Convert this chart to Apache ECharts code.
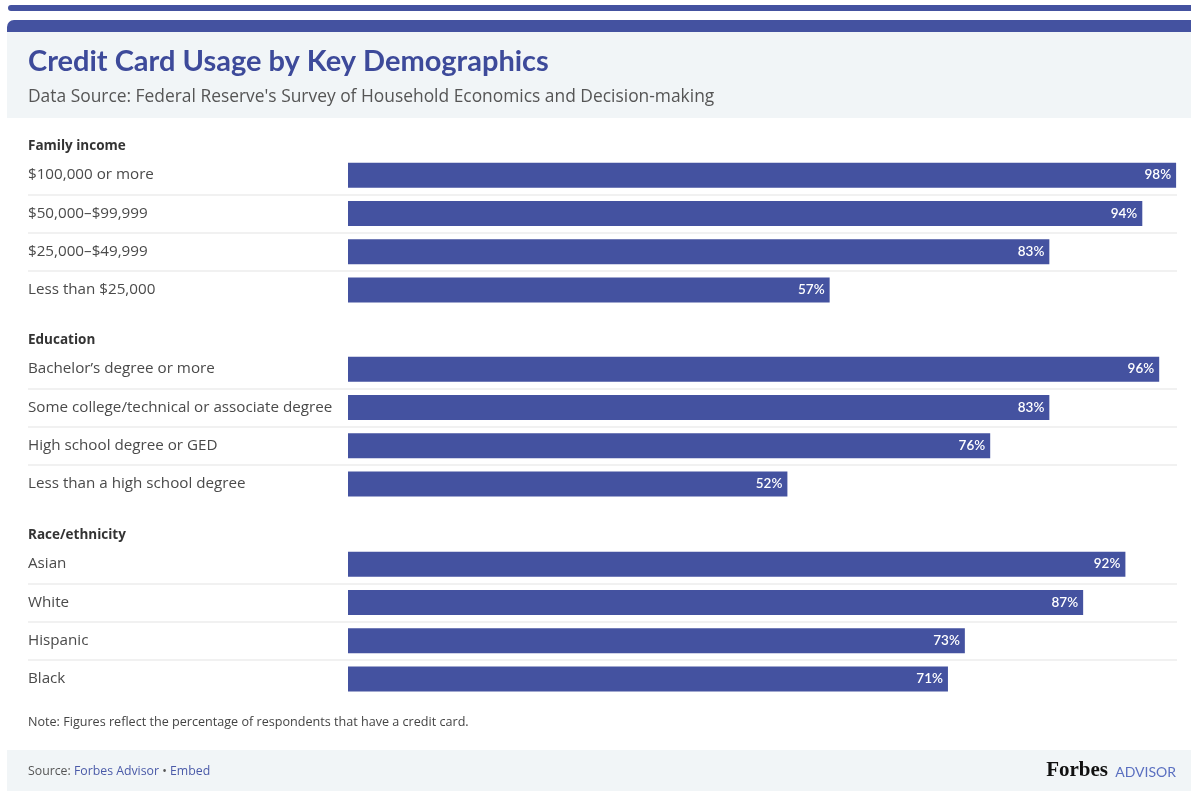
<!DOCTYPE html>
<html>
<head>
<meta charset="utf-8">
<script src="https://cdn.jsdelivr.net/npm/echarts@6/dist/echarts.min.js"></script>
<style>html,body{margin:0;padding:0;background:#fff;}#chart{width:1191px;height:791px;}</style>
</head>
<body>
<div id="chart"></div>
<script>
const groupTitles = ['Family income', 'Education', 'Race/ethnicity'];
const incomeCategories = ['$100,000 or more', '$50,000\u2013$99,999', '$25,000\u2013$49,999', 'Less than $25,000'];
const incomeValues = [98, 94, 83, 57];
const educationCategories = ['Bachelor\u2019s degree or more', 'Some college/technical or associate degree', 'High school degree or GED', 'Less than a high school degree'];
const educationValues = [96, 83, 76, 52];
const raceCategories = ['Asian', 'White', 'Hispanic', 'Black'];
const raceValues = [92, 87, 73, 71];

const groups = [
  { title: groupTitles[0], cats: incomeCategories, vals: incomeValues },
  { title: groupTitles[1], cats: educationCategories, vals: educationValues },
  { title: groupTitles[2], cats: raceCategories, vals: raceValues }
];

const FONT = 'Lato, "Noto Sans", sans-serif';
const BODY = '"Open Sans", "Noto Sans", sans-serif';
const BAR = '#4452a0';
const gridLeft = 28, gridRight = 1177, zeroX = 348, pxPerPct = 8.45;
const xMin = -(zeroX - gridLeft) / pxPerPct;
const xMax = (gridRight - zeroX) / pxPerPct;
const gridTops = [156, 350, 545];
const gridH = 153;

const grids = [], xAxes = [], yAxes = [], series = [], headerTexts = [];
groups.forEach((g, i) => {
  grids.push({ left: gridLeft, width: gridRight - gridLeft, top: gridTops[i], height: gridH, containLabel: false });
  xAxes.push({ type: 'value', gridIndex: i, min: xMin, max: xMax, show: false, splitLine: { show: false } });
  yAxes.push({
    type: 'category', gridIndex: i, data: g.cats, inverse: true,
    axisLine: { show: false }, axisTick: { show: false },
    axisLabel: { inside: true, margin: 0, align: 'left', color: '#4a4a4a', fontSize: 15.2, fontFamily: BODY, verticalAlign: 'middle', padding: [0, 0, 3, 0] },
    splitLine: { show: true, showMinLine: false, showMaxLine: false, lineStyle: { color: '#ececec', width: 1.5 } }
  });
  series.push({
    type: 'bar', xAxisIndex: i, yAxisIndex: i, data: g.vals, barWidth: 25,
    itemStyle: { color: BAR },
    label: { show: true, position: 'insideRight', distance: 5, color: '#ffffff', fontSize: 13.5, fontWeight: 600, fontFamily: FONT, formatter: '{c}%' },
    silent: true, animation: false
  });
  headerTexts.push({
    type: 'text', left: 28, top: gridTops[i] - 17,
    style: { text: g.title, fill: '#333', font: 'bold 13.5px ' + BODY }
  });
});

const chart = echarts.init(document.getElementById('chart'), null, { renderer: 'canvas' });
chart.setOption({
  backgroundColor: '#ffffff',
  animation: false,
  grid: grids, xAxis: xAxes, yAxis: yAxes, series: series,
  graphic: [
    { type: 'rect', shape: { x: 8, y: 5, width: 1183, height: 6, r: [3, 0, 0, 3] }, style: { fill: BAR }, z: -1 },
    { type: 'rect', shape: { x: 7, y: 20, width: 1184, height: 12, r: [7, 0, 0, 0] }, style: { fill: BAR }, z: -1 },
    { type: 'rect', shape: { x: 7, y: 32, width: 1184, height: 86 }, style: { fill: '#f1f5f7' }, z: -2 },
    { type: 'rect', shape: { x: 7, y: 750, width: 1184, height: 41 }, style: { fill: '#f1f5f7' }, z: -2 },
    { type: 'text', left: 28, top: 47, style: { text: 'Credit Card Usage by Key Demographics', fill: '#3d4a9a', font: 'bold 29px ' + FONT } },
    { type: 'text', left: 28, top: 89, style: { text: 'Data Source: Federal Reserve\'s Survey of Household Economics and Decision-making', fill: '#555', font: '17.4px ' + BODY } },
    { type: 'text', left: 28, top: 716, style: { text: 'Note: Figures reflect the percentage of respondents that have a credit card.', fill: '#444', font: '12.6px ' + BODY } },
    { type: 'text', left: 28, top: 765, style: { text: '{g|Source: }{b|Forbes Advisor}{g| \u2022 }{b|Embed}', font: '12.3px ' + BODY, rich: { g: { fill: '#555', font: '12.3px ' + BODY }, b: { fill: '#4a5aa8', font: '12.3px ' + BODY } } } },
    { type: 'text', right: 83, top: 760, style: { text: 'Forbes', fill: '#111', font: 'bold 21px "Liberation Serif", "DejaVu Serif", serif' } },
    { type: 'text', right: 15, top: 765, style: { text: 'ADVISOR', fill: '#5a6fc0', font: '14px ' + FONT } }
  ].concat(headerTexts)
});
</script>
</body>
</html>
